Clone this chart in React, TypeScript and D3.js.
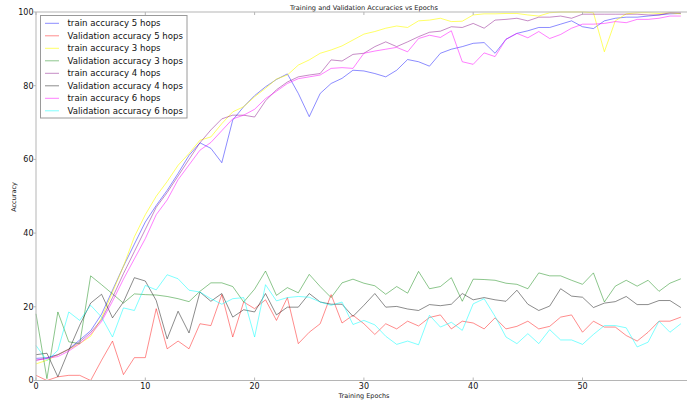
import React from 'react';
import * as d3 from 'd3';

const epochs = d3.range(60);

const train5 = [6, 6.2, 7, 8.5, 11, 13.5, 18, 24.5, 31, 37, 43, 47.5,
  51.6, 56.2, 61.1, 64.5, 63, 59.1, 70.7, 74.3, 77.3, 79.7, 81.7, 83.2, 77.9, 71.6, 77.9, 80.6, 82, 84.2, 84,
  83.3, 82.4, 84.2, 87.1, 86.5, 85.3, 88.8, 89.9, 90.6, 91.5, 91.7, 88.8, 92.6, 94.2, 94.9, 95.8, 95.8, 96.7, 97.6,
  96, 95.5, 97.6, 98.3, 98.6, 98.6, 98.9, 99.2, 99.5, 99.6];
const val5 = [1.4, 0, 1, 1.4, 1.4, 0, 5.5, 10.7, 1.6, 6.2, 6.2, 19.5, 8.6, 10.7, 8.6, 15.4, 14.9, 23.3, 11.8, 21.3, 19.5,
  21.9, 16.3, 22.5, 10, 13.1, 15.4, 23.3, 15.6, 17.7, 15.4, 12.5, 15.4, 14, 16.1, 14.8, 17.1, 17.8, 14, 16.1, 15.6,
  14, 17, 14, 14.7, 16.1, 14, 14.7, 17.2, 17.8, 13.1, 16.1, 14.5, 14.5, 12.2, 10.7, 13.1, 16.1, 16.1, 17.2];
const train3 = [4.5, 5.5, 7, 8.5, 10, 12, 17, 24, 31, 39, 45, 50,
  54, 58.4, 61.6, 65.2, 66.1, 69.7, 72.9, 74.3, 77, 79.3, 81.8, 82.9, 85.6, 87, 88.8, 89.7, 90.8, 92.4, 94,
  94.7, 95.6, 96.2, 95.8, 97.6, 97.8, 98.3, 97.4, 97.5, 99.2, 99.5, 99.5, 99.6, 99.6, 99.2, 98.9, 99.8, 100, 100,
  100, 99.8, 89.2, 97.6, 99.5, 99.8, 99.8, 99.6, 99.8, 99.5];
const val3 = [18.1, 0.5, 18.6, 10.5, 10, 28.4, 26, 23.5, 21, 23.5, 23.3, 23.2, 22.8, 22.2, 21.4, 24.2, 26.5, 26.5, 25.5, 21.3, 24.8,
  29.7, 23.1, 25.2, 23.8, 28.8, 25.5, 22.5, 26.5, 27.5, 26.4, 25.7, 23.4, 25.5, 23.7, 29.6, 24.9, 25.5, 27.9, 21.5, 27.5,
  27.4, 27.2, 26.4, 26.1, 24.9, 29.2, 28.4, 28.4, 27.2, 26.1, 29.2, 21.3, 25.6, 27.2, 25.6, 27.2, 24.2, 26.4, 27.6];
const train4 = [5.5, 6, 7, 8.5, 10.5, 13, 16.5, 22.5, 29, 35, 41, 47,
  51, 55.5, 60, 64.5, 68, 71, 72, 72, 71.5, 75.9, 78.9, 81, 82.4, 82.9, 83.3, 87, 86.7, 88.5, 88.8,
  90.6, 91.9, 90.6, 91.9, 93.3, 94.5, 94.8, 96, 95.8, 96.9, 95.6, 97.8, 98, 98.3, 97.6, 98.6, 98.6, 98.9, 98.3,
  99.4, 99.4, 99.4, 99.4, 99.4, 99.4, 99.2, 99.2, 99.8, 99.8];
const val4 = [7, 7.4, 1, 8.2, 15, 21, 23.4, 17, 21.3, 27.9, 27, 21.7, 11.3, 18.8, 12.9, 24, 21.5, 23.6, 17.2, 19.2, 18.6,
  23.6, 17.8, 19.9, 19.9, 23.6, 21.3, 20.7, 20.7, 17.4, 20.4, 23.6, 19.9, 20.1, 19.4, 19, 20.6, 20.3, 20.7, 23.6, 21.9,
  22.5, 21.9, 21.5, 24.5, 20.7, 19, 20.2, 24.9, 22.9, 22.6, 19.8, 21, 21.4, 22.8, 20.6, 20.6, 21.7, 21.7, 19.8];
const train6 = [5.5, 6, 6.5, 8, 10, 12.5, 16, 21.5, 27.5, 33, 38.5, 45,
  49, 54.5, 58.5, 62.5, 64.6, 67.8, 71, 72, 73.6, 76.5, 78.5, 80.6, 81.9, 82.4, 82.9, 84.7, 84.9, 84.7, 88.8,
  89.4, 89.9, 90.4, 89.2, 92.8, 93.7, 93.1, 94.9, 86.5, 85.8, 88.9, 87.9, 92.6, 94.2, 93, 94.7, 92.8, 93.9, 95.6,
  96.7, 96.7, 96.9, 97.4, 97.1, 98, 98, 98.3, 98.9, 98.9];
const val6 = [9.5, 5.4, 8.2, 18.6, 16.3, 20.4, 17.2, 11.8, 19.7, 19, 25.8, 24.6, 28.7, 27.6, 24.5, 24, 22.2, 20.7, 22.2, 22.5, 11.8,
  26, 21.6, 22.5, 22.8, 22.6, 21.3, 20.4, 21.3, 15.2, 16.3, 15.1, 12, 9.8, 10.7, 9.7, 17.7, 14.5, 15.8, 13.6, 20.8,
  22.2, 17.4, 11.8, 10, 12.7, 10, 13.8, 11, 11, 9.8, 12.5, 14.9, 14.9, 14.3, 9.1, 10.4, 16.1, 13.1, 15.4];

const series = [
  { name: 'train accuracy 5 hops', values: train5, color: '#0000ff', alpha: 0.45 },
  { name: 'Validation accuracy 5 hops', values: val5, color: '#ff0000', alpha: 0.45 },
  { name: 'train accuracy 3 hops', values: train3, color: '#ffff00', alpha: 0.6 },
  { name: 'Validation accuracy 3 hops', values: val3, color: '#008000', alpha: 0.45 },
  { name: 'train accuracy 4 hops', values: train4, color: '#800080', alpha: 0.45 },
  { name: 'Validation accuracy 4 hops', values: val4, color: '#000000', alpha: 0.45 },
  { name: 'train accuracy 6 hops', values: train6, color: '#ff00ff', alpha: 0.5 },
  { name: 'Validation accuracy 6 hops', values: val6, color: '#00ffff', alpha: 0.5 },
];

// the 60 tick sits past the cropped right edge, so only its mark is drawn
const xTicks = [0, 10, 20, 30, 40, 50, 60];
const xTickLabels = [0, 10, 20, 30, 40, 50];
const yTicks = [0, 20, 40, 60, 80, 100];

const W = 687;
const H = 401;
const left = 36, top = 12, bottom = 380.5;
const font = 'DejaVu Sans';

export default function App() {
  const x = d3.scaleLinear().domain([0, 60]).range([left, 691.8]);
  const y = d3.scaleLinear().domain([0, 100]).range([bottom, top]);
  const line = d3.line<number>().x((_, i) => x(epochs[i])).y(d => y(d));
  const spine = '#b5b5b5';

  return (
    <svg width={W} height={H} style={{ position: 'absolute', left: 0, top: 0, background: '#fff' }}>
      <rect x={0} y={0} width={W} height={H} fill="#fff" />
      {series.map(s => (
        <path key={s.name} d={line(s.values) ?? ''} fill="none" stroke={s.color}
          strokeOpacity={s.alpha} strokeWidth={1} />
      ))}
      {/* spines */}
      <line x1={left} x2={W} y1={top} y2={top} stroke={spine} />
      <line x1={left} x2={W} y1={bottom} y2={bottom} stroke={spine} />
      <line x1={left} x2={left} y1={top} y2={bottom} stroke={spine} />
      {xTicks.map(t => (
        <g key={t}>
          <line x1={x(t)} x2={x(t)} y1={bottom} y2={bottom - 3} stroke={spine} />
          <line x1={x(t)} x2={x(t)} y1={top} y2={top + 3} stroke={spine} />
        </g>
      ))}
      {xTickLabels.map(t => (
        <text key={t} x={x(t)} y={389} fontSize={8} fontFamily={font} textAnchor="middle" fill="#111">{t}</text>
      ))}
      {yTicks.map(t => (
        <g key={t}>
          <line x1={left - 2.5} x2={left} y1={y(t)} y2={y(t)} stroke={spine} />
          <text x={33.5} y={y(t)} dy="0.35em" fontSize={8} fontFamily={font} textAnchor="end" fill="#111">{t}</text>
        </g>
      ))}
      <text x={364} y={9.6} fontSize={6.6} fontFamily={font} textAnchor="middle" fill="#222">
        Training and Validation Accuracies vs Epochs
      </text>
      <text x={364} y={397.5} fontSize={6.5} fontFamily={font} textAnchor="middle" fill="#222">Training Epochs</text>
      <text transform={`translate(16,197) rotate(-90)`} fontSize={6.5} fontFamily={font} textAnchor="middle" fill="#222">Accuracy</text>
      {/* legend */}
      <g>
        <rect x={40.5} y={15.5} width={146.5} height={102.5} fill="#fff" stroke="#9a9a9a" strokeWidth={1} />
        {series.map((s, i) => {
          const cy = 23.3 + i * 12.5;
          return (
            <g key={s.name}>
              <line x1={45} x2={59} y1={cy} y2={cy} stroke={s.color} strokeOpacity={s.alpha} />
              <text x={67.5} y={cy} dy="0.35em" fontSize={8.6} fontFamily={font} fill="#111">{s.name}</text>
            </g>
          );
        })}
      </g>
    </svg>
  );
}
